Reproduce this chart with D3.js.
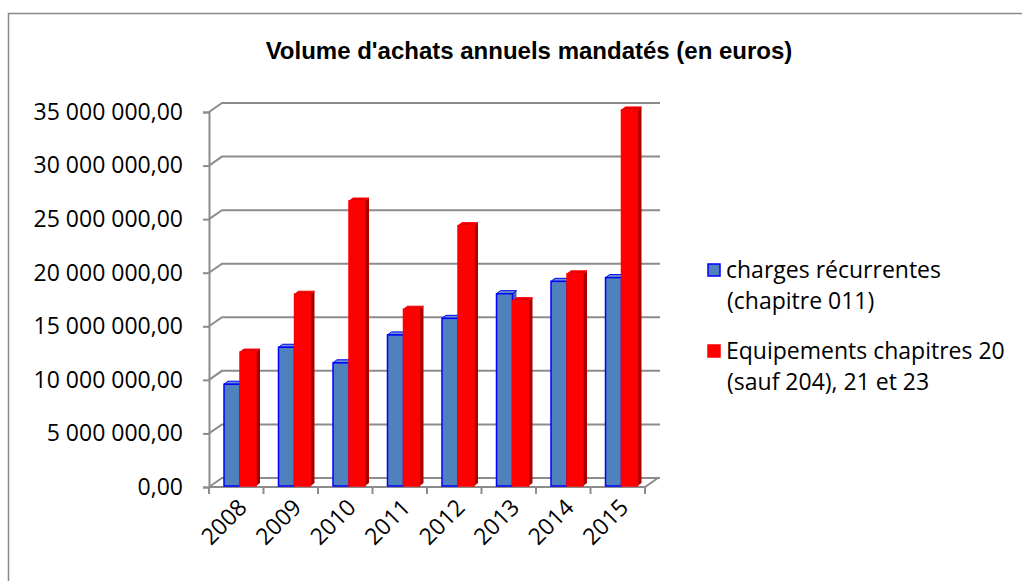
<!DOCTYPE html>
<html>
<head>
<meta charset="utf-8">
<script src="https://cdn.jsdelivr.net/npm/d3@7"></script>
<style>
  body { margin: 0; background: #fff; }
  .tickText { font-family: "Open Sans", sans-serif; font-size: 23px; fill: #000; }
</style>
</head>
<body>
<div id="main"></div>
<script>
// data
const years = ["2008", "2009", "2010", "2011", "2012", "2013", "2014", "2015"];
const charges = [9.5e6, 12.95e6, 11.5e6, 14.1e6, 15.65e6, 17.95e6, 19.1e6, 19.45e6];
const equipements = [12.5e6, 17.9e6, 26.6e6, 16.5e6, 24.3e6, 17.3e6, 19.8e6, 35.1e6];
const seriesNames = [["charges récurrentes", "(chapitre 011)"], ["Equipements chapitres 20", "(sauf 204), 21 et 23"]];
const yTicks = [0, 5e6, 10e6, 15e6, 20e6, 25e6, 30e6, 35e6];

function main() {
  const svgWidth = 1022;
  const svgHeight = 581;
  const depthX = 13, depthY = 9;   // offset between front axis and back wall
  const barDx = 4, barDy = 3;      // bar depth

  const svg = d3.select("#main").append("svg")
    .attr("width", svgWidth).attr("height", svgHeight);

  // outer frame
  svg.append("rect")
    .attr("x", 8.5).attr("y", 13.5)
    .attr("width", svgWidth).attr("height", svgHeight)
    .attr("fill", "none").attr("stroke", "#888").attr("stroke-width", 1.5);

  svg.append("text")
    .text("Volume d'achats annuels mandatés (en euros)")
    .attr("x", 529).attr("y", 59)
    .attr("text-anchor", "middle")
    .style("font-family", "Liberation Sans, Arial, sans-serif")
    .style("font-weight", "bold").style("font-size", "24px");

  // scales
  const xScale = d3.scaleBand().domain(years).range([209, 645]);
  const yFront = d3.scaleLinear().domain([0, 35e6]).range([487, 112]);
  const yBack = v => yFront(v) - depthY;
  const yBar = d3.scaleLinear().domain([0, 35e6]).range([486, 111]);

  const gridColor = "#8c8c8c";
  const grid = svg.append("g").attr("stroke", gridColor).attr("stroke-width", 2).attr("fill", "none");

  // back wall gridlines + left wall diagonals
  yTicks.forEach(v => {
    grid.append("path")
      .attr("d", "M" + 209 + "," + yFront(v) + "L" + (209 + depthX) + "," + yBack(v) + "L660," + yBack(v));
  });
  // floor
  grid.append("path")
    .attr("d", "M209," + yFront(0) + "L645," + yFront(0) + "L" + (645 + depthX) + "," + yBack(0));

  // y axis
  const locale = d3.formatLocale({ decimal: ",", thousands: " ", grouping: [3], currency: ["", ""] });
  const fmt = locale.format(",.2f");
  const yAxis = svg.append("g")
    .attr("transform", "translate(209,0)")
    .call(d3.axisLeft(yFront).tickValues(yTicks).tickFormat(fmt).tickSize(6).tickPadding(20));
  yAxis.select(".domain").attr("stroke", gridColor).attr("stroke-width", 2);
  yAxis.selectAll(".tick line").attr("stroke", gridColor).attr("stroke-width", 2);
  yAxis.selectAll(".tick text").attr("class", "tickText");

  // x axis ticks
  const xTickPos = years.map(y => xScale(y)).concat([xScale.range()[1]]);
  grid.selectAll(".xt").data(xTickPos).enter().append("line")
    .attr("x1", d => d).attr("x2", d => d)
    .attr("y1", yFront(0)).attr("y2", yFront(0) + 7);

  svg.selectAll(".xlab").data(years).enter().append("text")
    .attr("class", "tickText")
    .attr("text-anchor", "end")
    .attr("transform", d => "translate(" + (xScale(d) + xScale.bandwidth() / 2 + 12) + "," + 509 + ") rotate(-45)")
    .text(d => d);

  // 3D bars
  const barW = 16;
  const series = [
    { values: charges, off: 15, front: "#4f81bd", top: "#6b96cc", side: "#3e6aa0", stroke: "#0000ff" },
    { values: equipements, off: 31, front: "#ff0000", top: "#e00000", side: "#a80000", stroke: "#ff0000" }
  ];

  series.forEach(s => {
    const g = svg.append("g");
    const bars = g.selectAll("g").data(years).enter().append("g");
    bars.append("path") // side
      .attr("d", (d, i) => {
        const x = xScale(d) + s.off + barW, y0 = yBar(0), y1 = yBar(s.values[i]);
        return "M" + x + "," + y0 + "L" + x + "," + y1 + "L" + (x + barDx) + "," + (y1 - barDy) + "L" + (x + barDx) + "," + (y0 - barDy) + "Z";
      })
      .attr("fill", s.side);
    bars.append("path") // top
      .attr("d", (d, i) => {
        const x = xScale(d) + s.off, y1 = yBar(s.values[i]);
        return "M" + x + "," + y1 + "L" + (x + barW) + "," + y1 + "L" + (x + barW + barDx) + "," + (y1 - barDy) + "L" + (x + barDx) + "," + (y1 - barDy) + "Z";
      })
      .attr("fill", s.top).attr("stroke", s.stroke).attr("stroke-width", 1);
    bars.append("rect") // front
      .attr("x", d => xScale(d) + s.off)
      .attr("y", (d, i) => yBar(s.values[i]))
      .attr("width", barW)
      .attr("height", (d, i) => yBar(0) - yBar(s.values[i]))
      .attr("fill", s.front).attr("stroke", s.stroke).attr("stroke-width", 1.5);
  });

  // legend
  const legend = svg.append("g");
  const legY = [270, 351];
  series.forEach((s, i) => {
    legend.append("rect")
      .attr("x", 708).attr("y", legY[i] - 6).attr("width", 12).attr("height", 12)
      .attr("fill", s.front).attr("stroke", s.stroke).attr("stroke-width", 1.5);
    seriesNames[i].forEach((line, j) => {
      legend.append("text")
        .attr("class", "tickText")
        .attr("x", j == 0 ? 726 : 727)
        .attr("y", legY[i] + 8 + j * 31)
        .text(line);
    });
  });
}
main();
</script>
</body>
</html>
